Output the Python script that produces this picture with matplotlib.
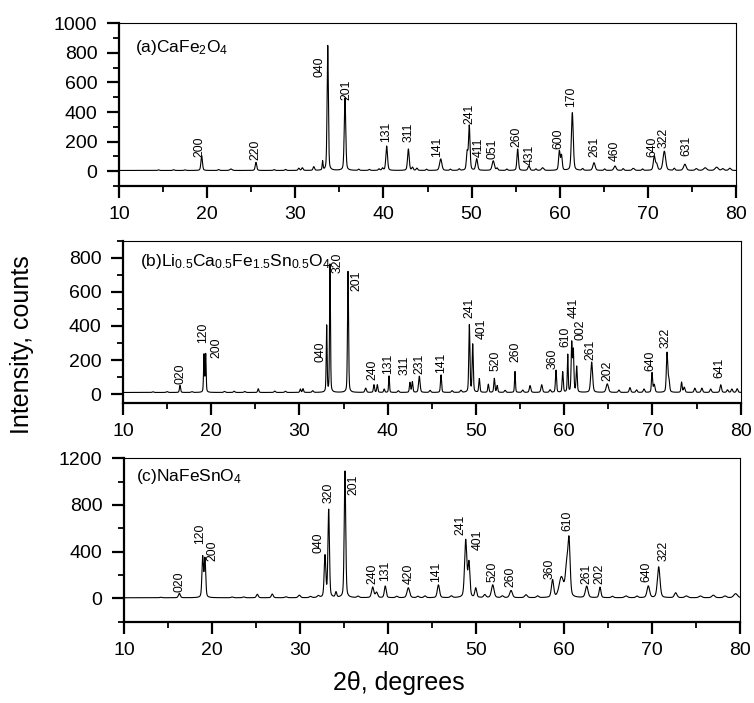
import numpy as np
import matplotlib
matplotlib.use('Agg')
import matplotlib.pyplot as plt
from matplotlib.ticker import MultipleLocator

plt.rcParams['font.family'] = ['Liberation Sans', 'DejaVu Sans']
plt.rcParams['mathtext.fontset'] = 'custom'
plt.rcParams['mathtext.rm'] = 'Liberation Sans'
plt.rcParams['mathtext.it'] = 'Liberation Sans:italic'

# ---------------- Panel (a) CaFe2O4 ----------------
a_title = r'(a)CaFe$_2$O$_4$'
a_base = 5
a_pos = [14.5, 16.2, 17.5, 19.38, 21.3, 22.7, 25.54, 27.6, 28.9, 30.4, 30.8, 32.1, 33.1,
         33.68, 35.64, 37.2, 38.4, 39.5, 39.9, 40.37, 42.83, 43.3, 43.8, 44.9, 46.5,
         47.6, 48.6, 49.5, 49.74, 50.58, 52.46, 52.9, 54.0, 55.23, 56.5, 57.3, 58.06,
         59.96, 60.2, 61.43, 62.6, 63.89, 65.1, 66.27, 67.2, 68.35, 69.4, 70.73, 71.0,
         71.87, 73.0, 74.2, 75.5, 76.5, 77.8, 78.5, 79.3]
a_hgt = [4, 5, 4, 100, 6, 10, 55, 6, 7, 15, 18, 25, 60,
         845, 490, 8, 7, 10, 15, 165, 145, 20, 15, 8, 78,
         8, 10, 120, 300, 78, 65, 15, 9, 145, 30, 10, 18,
         130, 100, 390, 12, 52, 10, 30, 12, 14, 10, 95, 40,
         130, 14, 42, 12, 18, 22, 12, 15]
a_fwhm = [0.2, 0.2, 0.2, 0.2, 0.2, 0.3, 0.2, 0.2, 0.2, 0.2, 0.2, 0.2, 0.12,
          0.17, 0.2, 0.2, 0.2, 0.2, 0.2, 0.22, 0.22, 0.2, 0.2, 0.2, 0.3,
          0.2, 0.2, 0.2, 0.2, 0.25, 0.3, 0.2, 0.2, 0.2, 0.25, 0.2, 0.3,
          0.2, 0.2, 0.25, 0.2, 0.3, 0.2, 0.3, 0.2, 0.3, 0.2, 0.25, 0.25,
          0.35, 0.2, 0.35, 0.3, 0.4, 0.4, 0.3, 0.3]
a_lbl = ['200', '220', '040', '201', '131', '311', '141', '241', '411', '051', '260',
         '431', '600', '170', '261', '460', '640', '322', '631']
a_lbl_x = [19.11, 25.43, 32.8, 35.83, 40.25, 42.83, 46.04, 49.71, 50.87, 52.35, 55.11,
           56.63, 59.84, 61.35, 63.89, 66.27, 70.5, 71.75, 74.4]
a_lbl_y = [95, 73, 638, 484, 197, 197, 95, 321, 95, 84, 163,
           45, 152, 434, 95, 68, 95, 159, 106]

# ---------------- Panel (b) Li0.5Ca0.5Fe1.5Sn0.5O4 ----------------
b_title = r'(b)Li$_{0.5}$Ca$_{0.5}$Fe$_{1.5}$Sn$_{0.5}$O$_4$'
b_base = 10
b_pos = [13.4, 15.0, 16.46, 17.8, 19.18, 19.37, 21.5, 22.6, 23.8, 25.33, 27.2, 28.4,
         30.1, 30.4, 31.5, 33.08, 33.46, 35.5, 37.5, 38.44, 38.82, 39.6, 40.15, 41.2,
         42.52, 42.79, 43.58, 44.8, 46.04, 47.3, 48.3, 49.25, 49.63, 50.38, 51.4, 52.08,
         52.4, 53.3, 54.42, 55.3, 56.13, 57.45, 58.4, 59.07, 59.83, 60.4, 60.85, 61.03,
         61.41, 63.11, 64.88, 66.2, 67.45, 68.2, 69.04, 69.95, 70.2, 71.65, 71.85, 73.3,
         73.6, 74.8, 75.6, 76.6, 77.74, 78.5, 79.0, 79.6]
b_hgt = [4, 5, 42, 5, 220, 222, 6, 7, 6, 22, 8, 7,
         20, 22, 10, 390, 750, 710, 25, 45, 45, 20, 97, 10,
         58, 62, 95, 12, 103, 10, 12, 395, 280, 80, 48, 82,
         40, 12, 123, 14, 40, 45, 15, 130, 120, 220, 285, 240,
         150, 178, 50, 14, 28, 15, 20, 115, 45, 228, 75, 60,
         30, 25, 25, 20, 45, 15, 20, 22]
b_fwhm = [0.2, 0.2, 0.15, 0.2, 0.12, 0.12, 0.2, 0.2, 0.2, 0.15, 0.2, 0.2,
          0.15, 0.15, 0.2, 0.12, 0.12, 0.14, 0.2, 0.15, 0.15, 0.15, 0.12, 0.2,
          0.15, 0.15, 0.2, 0.2, 0.15, 0.2, 0.2, 0.15, 0.15, 0.15, 0.15, 0.15,
          0.15, 0.2, 0.12, 0.2, 0.2, 0.2, 0.2, 0.15, 0.15, 0.12, 0.15, 0.15,
          0.15, 0.25, 0.3, 0.2, 0.2, 0.2, 0.2, 0.15, 0.2, 0.18, 0.2, 0.15,
          0.2, 0.2, 0.2, 0.2, 0.2, 0.2, 0.2, 0.2]
b_lbl = ['020', '120', '200', '040', '320', '201', '240', '131', '311', '231', '141',
         '241', '401', '520', '260', '360', '610', '441', '002', '261', '202', '640',
         '322', '641']
b_lbl_x = [16.46, 19.1, 20.62, 32.33, 34.29, 36.49, 38.3, 40.07, 41.96, 43.54, 46.0,
           49.25, 50.65, 52.21, 54.42, 58.7, 60.1, 61.03, 61.79, 62.92, 64.88, 69.72,
           71.47, 77.58]
b_lbl_y = [59, 299, 214, 191, 708, 605, 84, 117, 113, 117, 123,
           445, 325, 136, 187, 146, 279, 449, 320, 201, 80, 133,
           269, 94]

# ---------------- Panel (c) NaFeSnO4 ----------------
c_title = r'(c)NaFeSnO$_4$'
c_base = 5
c_pos = [14.2, 16.29, 18.94, 19.2, 22.3, 23.6, 25.15, 26.85, 28.4, 29.92, 31.2, 32.08,
         32.84, 33.26, 34.09, 35.11, 36.6, 38.26, 38.7, 39.69, 41.0, 42.31, 43.4, 44.2,
         45.73, 47.2, 48.83, 49.2, 49.97, 51.0, 51.9, 53.0, 53.98, 55.68, 57.0, 58.7,
         59.7, 60.3, 60.57, 62.58, 64.09, 65.5, 67.05, 68.3, 69.58, 70.76, 72.69, 73.9,
         75.5, 76.97, 78.3, 79.5]
c_hgt = [4, 38, 345, 330, 6, 7, 30, 32, 8, 22, 10, 15,
         355, 750, 45, 1085, 12, 90, 45, 100, 12, 85, 12, 15,
         110, 15, 490, 290, 80, 25, 110, 15, 62, 25, 15, 150,
         170, 240, 465, 98, 90, 12, 15, 14, 100, 265, 42, 15,
         15, 22, 15, 35]
c_fwhm = [0.3, 0.25, 0.2, 0.2, 0.3, 0.3, 0.25, 0.25, 0.3, 0.3, 0.3, 0.3,
          0.22, 0.2, 0.2, 0.2, 0.3, 0.3, 0.3, 0.25, 0.3, 0.35, 0.3, 0.3,
          0.3, 0.3, 0.3, 0.25, 0.25, 0.3, 0.35, 0.3, 0.35, 0.35, 0.3, 0.3,
          0.6, 0.35, 0.3, 0.35, 0.25, 0.3, 0.4, 0.3, 0.35, 0.35, 0.35, 0.4,
          0.4, 0.4, 0.4, 0.5]
c_lbl = ['020', '120', '200', '040', '320', '201', '240', '131', '420', '141', '241',
         '401', '520', '260', '360', '610', '261', '202', '640', '322']
c_lbl_x = [16.36, 18.64, 20.04, 32.08, 33.22, 36.06, 38.22, 39.73, 42.31, 45.52, 48.26,
           50.15, 51.9, 53.86, 58.32, 60.4, 62.5, 63.98, 69.32, 71.28]
c_lbl_y = [52, 468, 319, 391, 818, 884, 124, 152, 124, 138, 540,
           411, 144, 95, 167, 574, 124, 124, 138, 319]

x_ticks = [10, 20, 30, 40, 50, 60, 70, 80]


def pattern(x, base, pos, hgt, fwhm, eta=0.35):
    y = np.full_like(x, float(base))
    for p, h, w in zip(pos, hgt, fwhm):
        d = (x - p) / (w / 2.0)
        lor = 1.0 / (1.0 + d ** 2)
        gau = np.exp(-np.log(2) * d ** 2)
        y += h * (eta * lor + (1 - eta) * gau)
    return y


W, H = 754, 703
fig = plt.figure(figsize=(W / 100, H / 100), dpi=100)

panels = [
    dict(box=(119, 23.3, 736, 186), ylim=(-100, 1000), major=200, minor=100,
         title=a_title, tx=0.026, ty=0.851, data=(a_base, a_pos, a_hgt, a_fwhm),
         labels=(a_lbl, a_lbl_x, a_lbl_y)),
    dict(box=(123, 240.7, 740.7, 402.7), ylim=(-50, 900), major=200, minor=100,
         title=b_title, tx=0.0275, ty=0.87, data=(b_base, b_pos, b_hgt, b_fwhm),
         labels=(b_lbl, b_lbl_x, b_lbl_y)),
    dict(box=(124, 458.3, 740, 621.7), ylim=(-200, 1200), major=400, minor=200,
         title=c_title, tx=0.0195, ty=0.887, data=(c_base, c_pos, c_hgt, c_fwhm),
         labels=(c_lbl, c_lbl_x, c_lbl_y)),
]

x = np.arange(10, 80.0001, 0.01)
for pn in panels:
    l, t, r, b = pn['box']
    ax = fig.add_axes([l / W, 1 - b / H, (r - l) / W, (b - t) / H])
    base, pos, hgt, fwhm = pn['data']
    ax.plot(x, pattern(x, base, pos, hgt, fwhm), color='black', lw=0.8)
    ax.set_xlim(10, 80)
    ax.set_xticks(x_ticks)
    ax.xaxis.set_minor_locator(MultipleLocator(5))
    ax.yaxis.set_major_locator(MultipleLocator(pn['major']))
    ax.yaxis.set_minor_locator(MultipleLocator(pn['minor']))
    ax.set_ylim(*pn['ylim'])
    ax.tick_params(which='major', direction='out', length=8.5, width=1.6, labelsize=14)
    ax.tick_params(axis='y', which='major', pad=7)
    ax.tick_params(axis='x', which='major', pad=6)
    ax.tick_params(which='minor', direction='out', length=4.5, width=1.3)
    ax.tick_params(top=False, right=False, which='both')
    ax.spines['left'].set_linewidth(1.6)
    ax.spines['bottom'].set_linewidth(1.6)
    ax.spines['top'].set_linewidth(0.8)
    ax.spines['right'].set_linewidth(0.8)
    ax.text(pn['tx'], pn['ty'], pn['title'], transform=ax.transAxes,
            fontsize=12.5, ha='left', va='center')
    lbls, lx, ly = pn['labels']
    for s, xx, yy in zip(lbls, lx, ly):
        ax.text(xx, yy, s, rotation=90, ha='center', va='bottom', fontsize=8.8)

fig.text(22 / W, 1 - 345 / H, 'Intensity, counts', rotation=90, ha='center',
         va='center', fontsize=18)
fig.text(399 / W, 1 - 683 / H, '2\u03b8, degrees', ha='center', va='center', fontsize=18)

fig.savefig('out.png', dpi=100)
